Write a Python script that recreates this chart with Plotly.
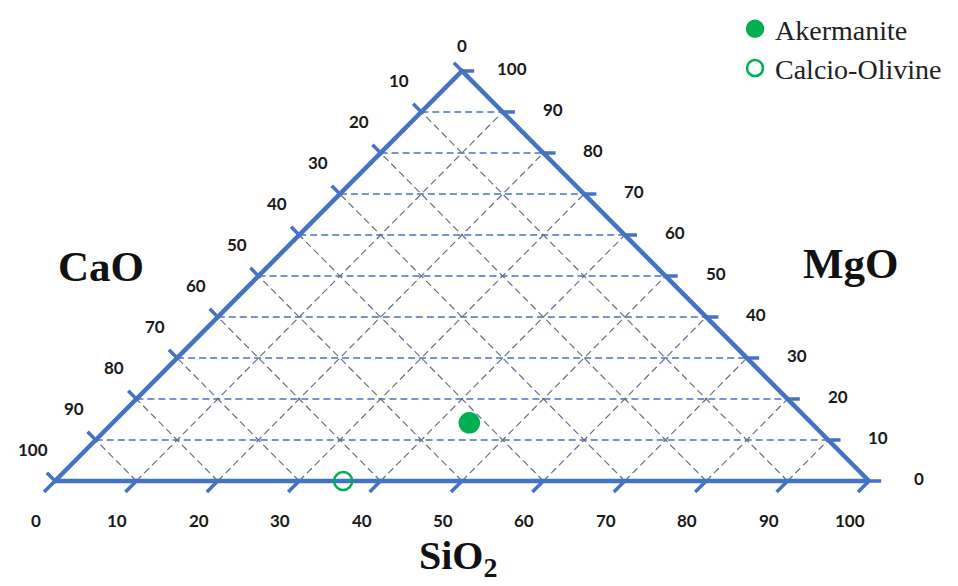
import plotly.graph_objects as go

# Oxide composition (wt%) of the two phases
phases = ["Akermanite", "Calcio-Olivine"]
cao = [42.0, 64.6]
mgo = [14.2, 0.0]
sio2 = [43.8, 35.4]

# Tick values shared by the three sides
tick_values = [0, 10, 20, 30, 40, 50, 60, 70, 80, 90, 100]
tick_labels = [str(v) for v in tick_values]
grid_values = tick_values[1:-1]

SIDE = "#4472C4"
GREEN = "#00B050"
LABEL_FONT = dict(family="Lato", size=17, color="#1a1a1a", weight="bold")
TITLE_FONT = dict(family="Liberation Serif", size=43, color="#111111", weight="bold")
BASE_TITLE_FONT = dict(family="Liberation Serif", size=40, color="#111111", weight="bold")


def to_xy(s, m):
    """SiO2 runs along the base, MgO up to the apex; CaO is the remainder."""
    return s + m / 2.0, m


def segments(pairs):
    xs, ys = [], []
    for (s0, m0), (s1, m1) in pairs:
        x0, y0 = to_xy(s0, m0)
        x1, y1 = to_xy(s1, m1)
        xs += [x0, x1, None]
        ys += [y0, y1, None]
    return xs, ys


fig = go.Figure()

# Dashed grid: constant MgO (horizontal), constant SiO2 and constant CaO
hx, hy = segments([((0, v), (100 - v, v)) for v in grid_values])
fig.add_trace(go.Scatter(x=hx, y=hy, mode="lines", hoverinfo="skip", showlegend=False,
                         line=dict(color="#4a72c8", width=1.3, dash="7px,4px")))
sx, sy = segments([((v, 0), (v, 100 - v)) for v in grid_values])
cx, cy = segments([((100 - v, 0), (0, 100 - v)) for v in grid_values])
fig.add_trace(go.Scatter(x=sx + cx, y=sy + cy, mode="lines", hoverinfo="skip", showlegend=False,
                         line=dict(color="#676f8c", width=1.2, dash="7px,4px")))

# Triangle outline
tx, ty = zip(*[to_xy(0, 0), to_xy(100, 0), to_xy(0, 100), to_xy(0, 0)])
fig.add_trace(go.Scatter(x=list(tx), y=list(ty), mode="lines", hoverinfo="skip", showlegend=False,
                         line=dict(color=SIDE, width=4.5)))

# Tick marks: each grid family extended a little beyond its side
bottom = [((v, -2.7), (v, 0.3)) for v in tick_values]
right = [((100 - v + 1.5, v), (100 - v - 0.2, v)) for v in tick_values]
left = [((-2.0, 100 - v + 2.0), (0.4, 100 - v - 0.4)) for v in tick_values]
kx, ky = segments(bottom + right + left)
fig.add_trace(go.Scatter(x=kx, y=ky, mode="lines", hoverinfo="skip", showlegend=False,
                         line=dict(color=SIDE, width=3.5)))

# Phase points
symbols = ["circle", "circle-open"]
sizes = [19, 18]
for name, c, m, s, sym, size in zip(phases, cao, mgo, sio2, symbols, sizes):
    total = c + m + s
    x, y = to_xy(100 * s / total, 100 * m / total)
    fig.add_trace(go.Scatter(x=[x], y=[y], mode="markers", name=name,
                             marker=dict(symbol=sym, size=size, color=GREEN,
                                         line=dict(color=GREEN, width=2.5))))

annotations = []
# CaO scale along the left side (0 at apex, 100 at lower left)
for v, lab in zip(tick_values, tick_labels):
    x, y = to_xy(0, 100 - v)
    xs, ys = (0, 26) if v == 0 else (-22, 32)
    annotations.append(dict(x=x, y=y, text=lab, showarrow=False, xshift=xs, yshift=ys,
                            font=LABEL_FONT))
# MgO scale along the right side
for v, lab in zip(tick_values, tick_labels):
    x, y = to_xy(100 - v, v)
    annotations.append(dict(x=x, y=y, text=lab, showarrow=False, xshift=50, yshift=3,
                            font=LABEL_FONT))
# SiO2 scale along the base
for v, lab in zip(tick_values, tick_labels):
    x, y = to_xy(v, 0)
    annotations.append(dict(x=x, y=y, text=lab, showarrow=False, xshift=-19, yshift=-39,
                            font=LABEL_FONT))

# Component names
W, H = 958, 586
for text, px, py, font in [("CaO", 101, 266, TITLE_FONT), ("MgO", 851, 263, TITLE_FONT),
                           ("SiO<sub>2</sub>", 458, 558, BASE_TITLE_FONT)]:
    annotations.append(dict(x=px / W, y=1 - py / H, xref="paper", yref="paper", text=text,
                            showarrow=False, font=font, xanchor="center", yanchor="middle"))

# Plot coordinates: base spans 814 px, apex 410 px above the base
x_per_px = 100 / 814.0
y_per_px = 100 / 410.0
x_range = [-55 * x_per_px, (W - 55) * x_per_px]
y_range = [-(H - 481) * y_per_px, 481 * y_per_px]

fig.update_layout(
    width=W, height=H,
    margin=dict(l=0, r=0, t=0, b=0),
    paper_bgcolor="white", plot_bgcolor="white",
    xaxis=dict(range=x_range, visible=False, fixedrange=True),
    yaxis=dict(range=y_range, visible=False, fixedrange=True),
    annotations=annotations,
    showlegend=True,
    legend=dict(x=735 / W, y=1 - 4 / H, xanchor="left", yanchor="top",
                font=dict(family="Liberation Serif", size=28, color="#222222"),
                bgcolor="rgba(0,0,0,0)", itemclick=False, itemdoubleclick=False),
)

fig.write_html("out.html")
